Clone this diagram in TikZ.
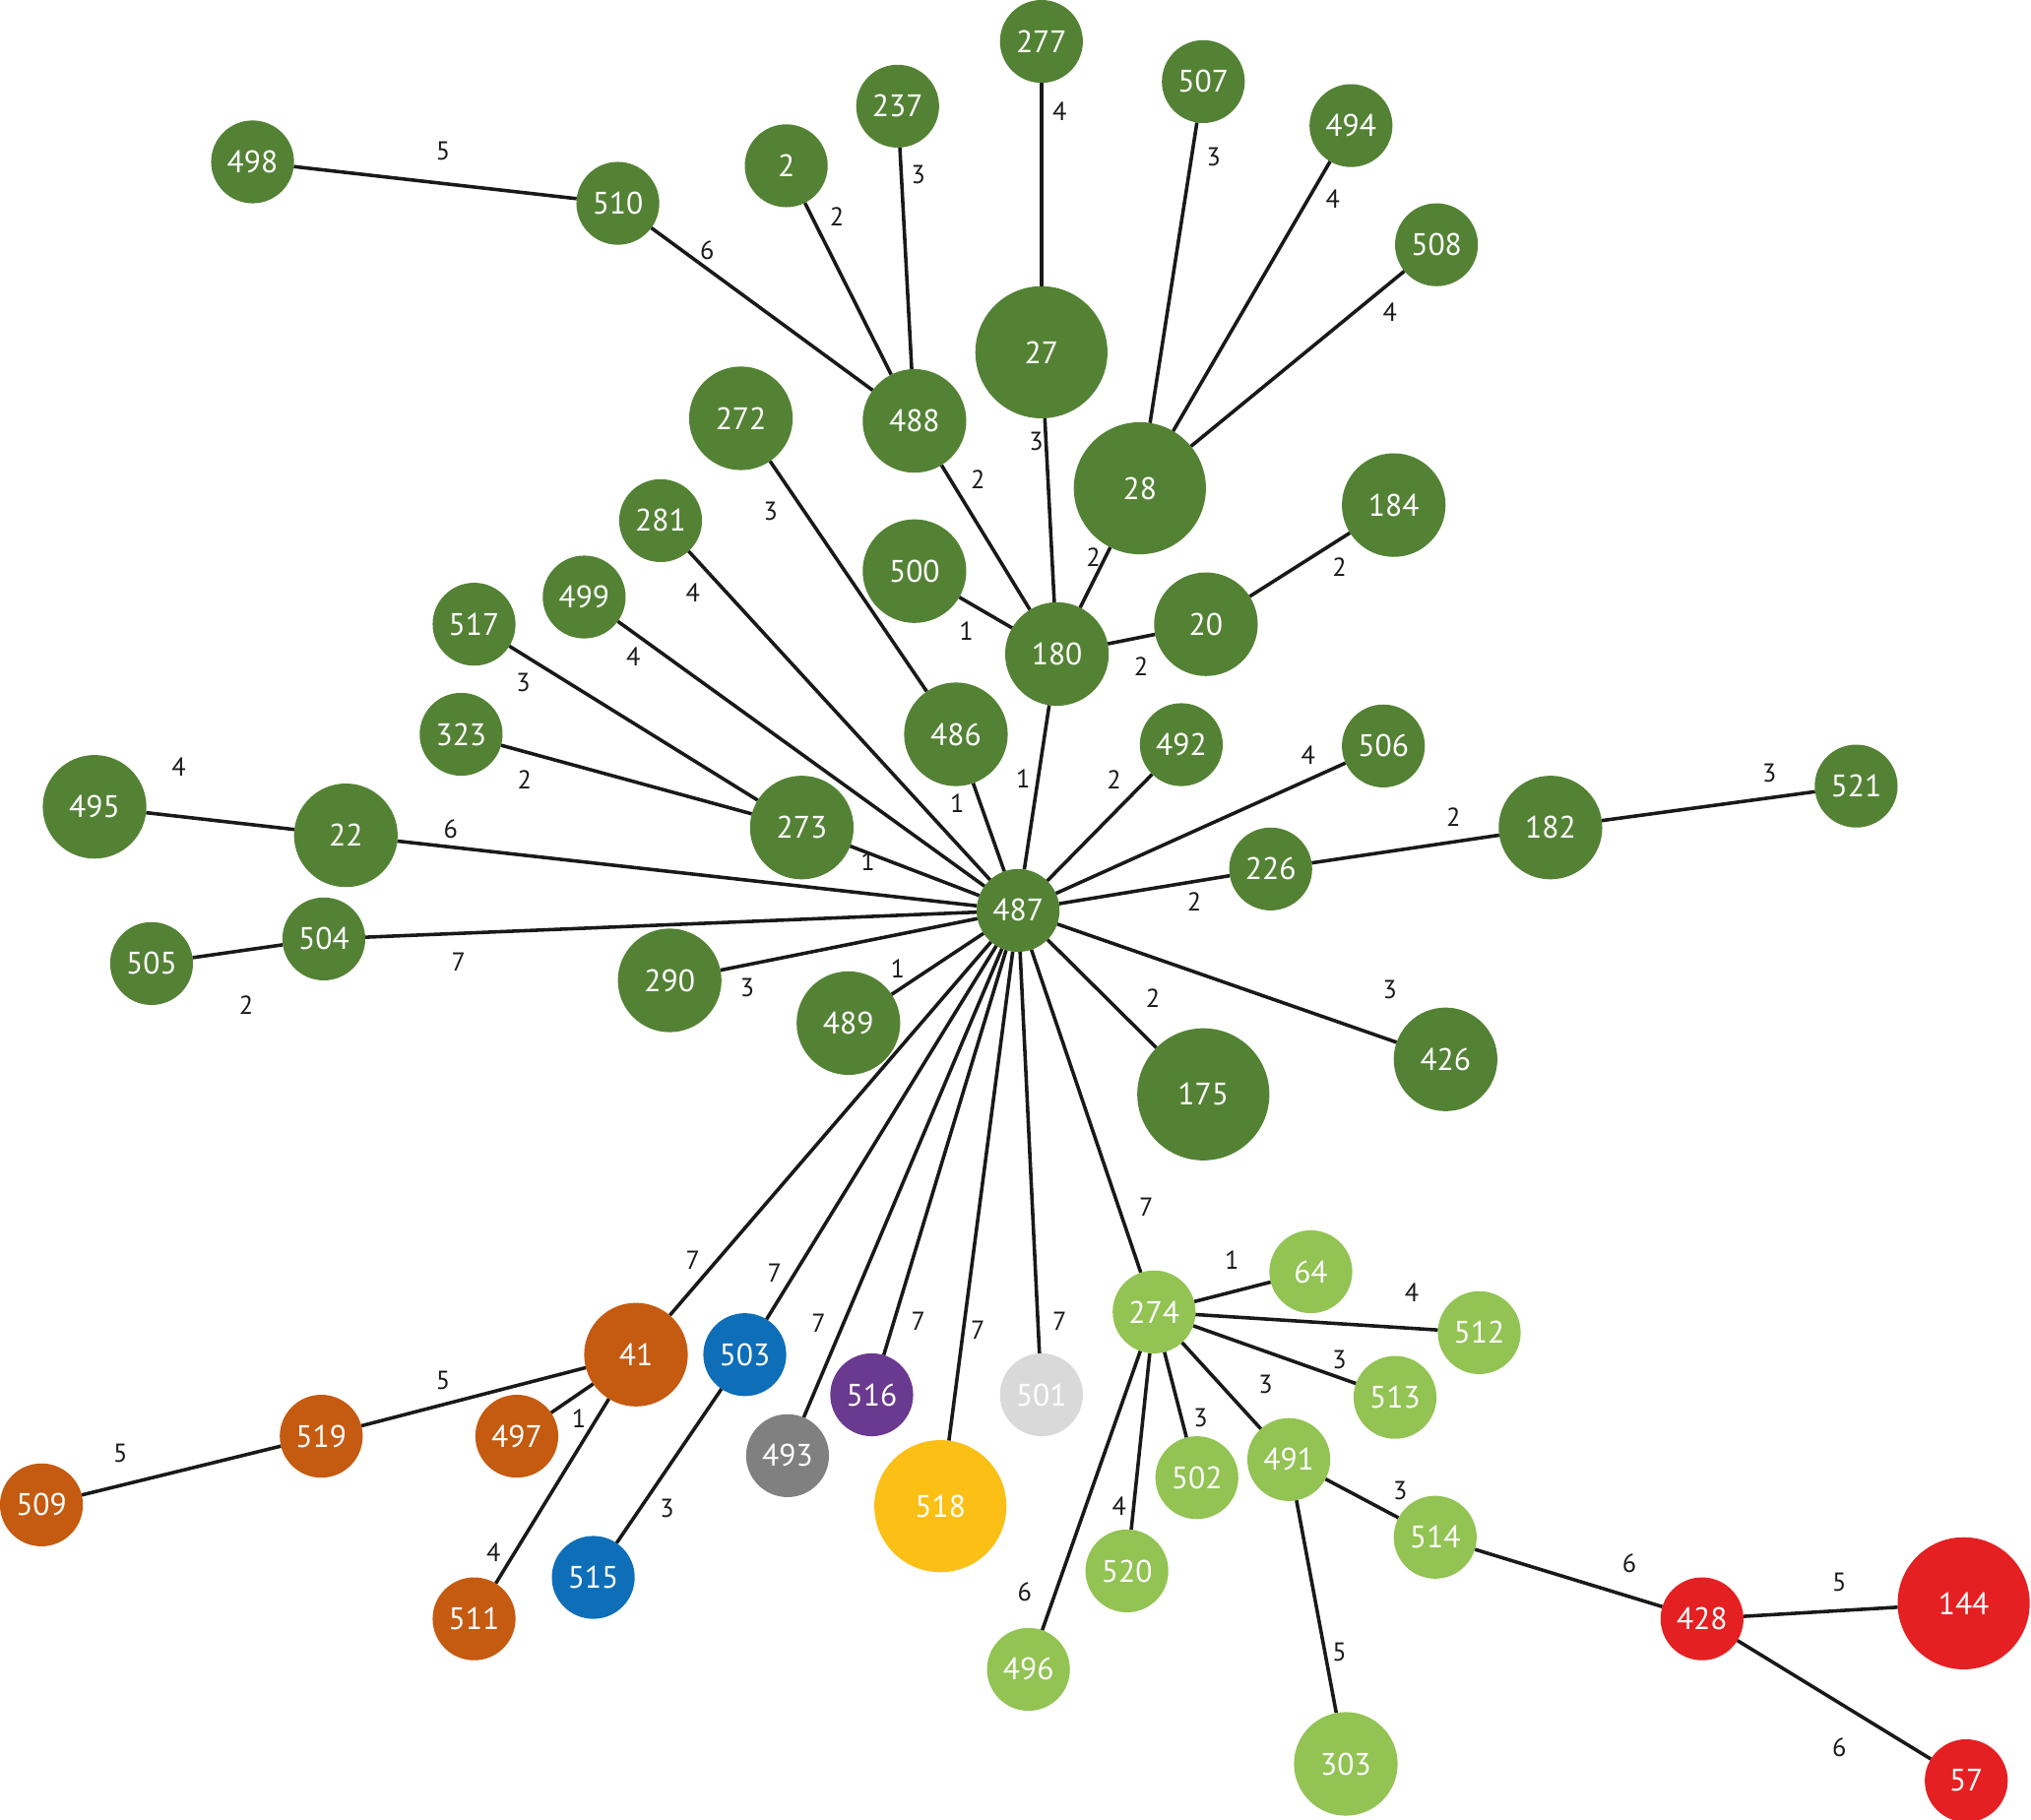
\documentclass[tikz,border=0pt]{standalone}
\usepackage{fontspec}
\setsansfont{PT Sans}
\usetikzlibrary{backgrounds}
\definecolor{dg}{HTML}{548235}
\definecolor{lg}{HTML}{92C353}
\definecolor{org}{HTML}{C55A11}
\definecolor{blu}{HTML}{0E6EB8}
\definecolor{pur}{HTML}{6A3990}
\definecolor{gry}{HTML}{808080}
\definecolor{yel}{HTML}{FBBF16}
\definecolor{lgr}{HTML}{D9D9D9}
\definecolor{rd}{HTML}{E42022}
\begin{document}
\begin{tikzpicture}[x=1pt,y=-1pt,
  st/.style={circle,inner sep=0pt,outer sep=0pt,text=white,font=\sffamily\fontsize{24}{24}\selectfont},
  sm/.style={st,minimum size=64pt},
  md/.style={st,minimum size=80pt},
  lgn/.style={st,minimum size=102pt},
  lab/.style={inner sep=0pt,text=black!90,font=\sffamily\fontsize{20}{20}\selectfont},
  con/.style={line width=2.7pt,draw=black!90}]
\useasboundingbox (0,0) rectangle (1568,1405);
% dark green
\node[sm,fill=dg] (n498) at (195,125) {498};
\node[sm,fill=dg] (n510) at (477,157) {510};
\node[sm,fill=dg] (n2) at (607,128) {2};
\node[sm,fill=dg] (n237) at (693,82) {237};
\node[sm,fill=dg] (n277) at (804,32) {277};
\node[sm,fill=dg] (n507) at (929,63) {507};
\node[sm,fill=dg] (n494) at (1043,97) {494};
\node[sm,fill=dg] (n508) at (1109,189) {508};
\node[lgn,fill=dg] (n27) at (804,272) {27};
\node[md,fill=dg] (n488) at (706,325) {488};
\node[md,fill=dg] (n272) at (572,323) {272};
\node[lgn,fill=dg] (n28) at (880,377) {28};
\node[md,fill=dg] (n184) at (1076,390) {184};
\node[sm,fill=dg] (n281) at (510,402) {281};
\node[md,fill=dg] (n500) at (706,441) {500};
\node[sm,fill=dg] (n499) at (451,461) {499};
\node[sm,fill=dg] (n517) at (366,482) {517};
\node[md,fill=dg] (n180) at (816,505) {180};
\node[md,fill=dg] (n20) at (931,482) {20};
\node[md,fill=dg] (n486) at (738,567) {486};
\node[sm,fill=dg] (n492) at (912,575) {492};
\node[sm,fill=dg] (n506) at (1068,576) {506};
\node[sm,fill=dg] (n323) at (356,567) {323};
\node[md,fill=dg] (n495) at (73,623) {495};
\node[md,fill=dg] (n22) at (267,645) {22};
\node[md,fill=dg] (n273) at (619,639) {273};
\node[md,fill=dg] (n182) at (1197,639) {182};
\node[sm,fill=dg] (n521) at (1433,607) {521};
\node[sm,fill=dg] (n226) at (981,671) {226};
\node[sm,fill=dg] (n487) at (786,703) {487};
\node[sm,fill=dg] (n504) at (250,725) {504};
\node[sm,fill=dg] (n505) at (117,744) {505};
\node[md,fill=dg] (n290) at (517,757) {290};
\node[md,fill=dg] (n489) at (655,790) {489};
\node[lgn,fill=dg] (n175) at (929,845) {175};
\node[md,fill=dg] (n426) at (1116,818) {426};
% light green
\node[sm,fill=lg] (n274) at (891,1013) {274};
\node[sm,fill=lg] (n64) at (1012,982) {64};
\node[sm,fill=lg] (n512) at (1142,1029) {512};
\node[sm,fill=lg] (n513) at (1077,1079) {513};
\node[sm,fill=lg] (n502) at (924,1141) {502};
\node[sm,fill=lg] (n491) at (995,1127) {491};
\node[sm,fill=lg] (n514) at (1108,1187) {514};
\node[sm,fill=lg] (n520) at (870,1213) {520};
\node[sm,fill=lg] (n496) at (794,1289) {496};
\node[md,fill=lg] (n303) at (1039,1362) {303};
% red
\node[sm,fill=rd] (n428) at (1314,1250) {428};
\node[lgn,fill=rd] (n144) at (1516,1238) {144};
\node[sm,fill=rd] (n57) at (1518,1375) {57};
% orange
\node[md,fill=org] (n41) at (491,1046) {41};
\node[sm,fill=org] (n519) at (248,1109) {519};
\node[sm,fill=org] (n497) at (399,1109) {497};
\node[sm,fill=org] (n509) at (32,1162) {509};
\node[sm,fill=org] (n511) at (366,1250) {511};
% blue
\node[sm,fill=blu] (n503) at (575,1046) {503};
\node[sm,fill=blu] (n515) at (458,1218) {515};
% others
\node[sm,fill=gry] (n493) at (608,1124) {493};
\node[sm,fill=pur] (n516) at (673,1077) {516};
\node[lgn,fill=yel] (n518) at (726,1163) {518};
\node[sm,fill=lgr] (n501) at (804,1077) {501};
% connectors
\begin{pgfonlayer}{background}
\foreach \a/\b in {498/510,510/488,2/488,237/488,277/27,507/28,494/28,508/28,
  27/180,488/180,28/180,184/20,500/180,20/180,180/487,272/486,486/487,281/487,
  499/487,517/273,323/273,273/487,495/22,22/487,504/487,505/504,290/487,489/487,
  492/487,506/487,226/487,182/226,521/182,175/487,426/487,487/274,487/41,487/503,
  487/493,487/516,487/518,487/501,274/64,274/512,274/513,274/491,274/502,274/520,
  274/496,491/514,491/303,514/428,428/144,428/57,41/519,519/509,41/497,41/511,503/515}
  \draw[con] (n\a) -- (n\b);
\end{pgfonlayer}
% labels
\node[lab] (l1) at (342,117) {5};
\node[lab] (l2) at (546,193) {6};
\node[lab] (l3) at (646,167) {2};
\node[lab] (l4) at (709,135) {3};
\node[lab] (l5) at (818,86) {4};
\node[lab] (l6) at (937,121) {3};
\node[lab] (l7) at (1029,154) {4};
\node[lab] (l8) at (1073,241) {4};
\node[lab] (l9) at (800,341) {3};
\node[lab] (l10) at (755,370) {2};
\node[lab] (l11) at (844,430) {2};
\node[lab] (l12) at (1034,438) {2};
\node[lab] (l13) at (746,487) {1};
\node[lab] (l14) at (881,515) {2};
\node[lab] (l15) at (790,601) {1};
\node[lab] (l16) at (595,395) {3};
\node[lab] (l17) at (739,620) {1};
\node[lab] (l18) at (535,458) {4};
\node[lab] (l19) at (489,507) {4};
\node[lab] (l20) at (404,527) {3};
\node[lab] (l21) at (405,602) {2};
\node[lab] (l22) at (670,665) {1};
\node[lab] (l23) at (138,592) {4};
\node[lab] (l24) at (348,640) {6};
\node[lab] (l25) at (354,743) {7};
\node[lab] (l26) at (190,776) {2};
\node[lab] (l27) at (577,763) {3};
\node[lab] (l28) at (693,748) {1};
\node[lab] (l29) at (860,602) {2};
\node[lab] (l30) at (1010,583) {4};
\node[lab] (l31) at (922,696) {2};
\node[lab] (l32) at (1122,631) {2};
\node[lab] (l33) at (1366,597) {3};
\node[lab] (l34) at (890,771) {2};
\node[lab] (l35) at (1073,764) {3};
\node[lab] (l36) at (885,932) {7};
\node[lab] (l37) at (535,973) {7};
\node[lab] (l38) at (598,983) {7};
\node[lab] (l39) at (632,1022) {7};
\node[lab] (l40) at (709,1020) {7};
\node[lab] (l41) at (755,1027) {7};
\node[lab] (l42) at (818,1020) {7};
\node[lab] (l43) at (951,973) {1};
\node[lab] (l44) at (1090,998) {4};
\node[lab] (l45) at (1034,1050) {3};
\node[lab] (l46) at (977,1069) {3};
\node[lab] (l47) at (927,1095) {3};
\node[lab] (l48) at (864,1163) {4};
\node[lab] (l49) at (791,1229) {6};
\node[lab] (l50) at (1081,1151) {3};
\node[lab] (l51) at (1034,1276) {5};
\node[lab] (l52) at (1258,1207) {6};
\node[lab] (l53) at (1420,1222) {5};
\node[lab] (l54) at (1420,1349) {6};
\node[lab] (l55) at (342,1066) {5};
\node[lab] (l56) at (93,1122) {5};
\node[lab] (l57) at (447,1095) {1};
\node[lab] (l58) at (381,1199) {4};
\node[lab] (l59) at (515,1165) {3};
\end{tikzpicture}
\end{document}
